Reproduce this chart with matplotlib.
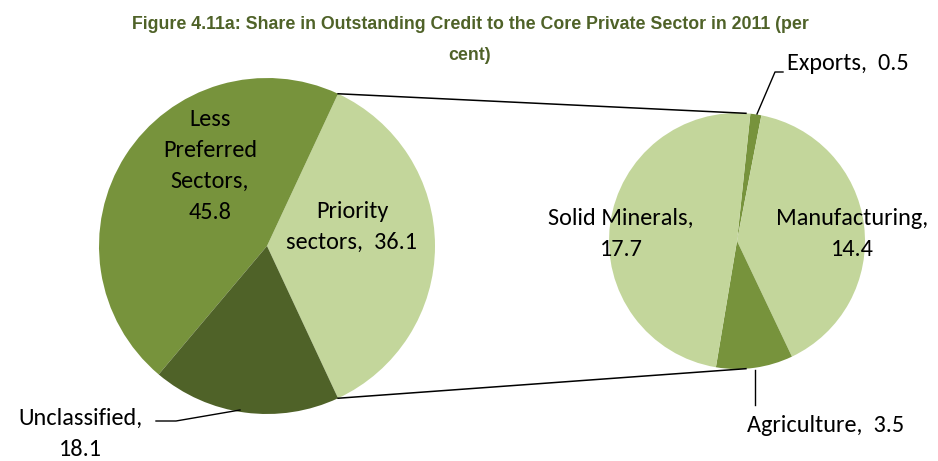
"""Pie-of-pie: share in outstanding credit to the core private sector, 2011."""
import matplotlib
matplotlib.use('Agg')
import matplotlib.pyplot as plt
import numpy as np

# main pie
main_labels = ['Priority\nsectors,  36.1', 'Less\nPreferred\nSectors,\n45.8', 'Unclassified,\n18.1']
main_values = [36.1, 45.8, 18.1]
# breakdown of the priority sectors
sub_labels = ['Exports,  0.5', 'Manufacturing,\n14.4', 'Agriculture,  3.5', 'Solid Minerals,\n17.7']
sub_values = [0.5, 14.4, 3.5, 17.7]

LIGHT = '#C3D69B'
MID = '#77933C'
DARK = '#4F6228'

W, H = 938, 461
fig = plt.figure(figsize=(W / 100, H / 100), dpi=100)
ax = fig.add_axes([0, 0, 1, 1])

def py(y):
    # pixel rows counted from the top
    return H - y

c1, r1 = (267, py(246)), 168
c2, r2 = (737, py(241)), 128

# priority slice centred on the right-hand side
start1 = 360 * main_values[0] / 100 / 2
ax.pie(main_values, colors=[LIGHT, MID, DARK], center=c1, radius=r1,
       startangle=-start1, counterclock=True, frame=True,
       wedgeprops=dict(linewidth=0))
ax.pie(sub_values, colors=[MID, LIGHT, MID, LIGHT], center=c2, radius=r2,
       startangle=84, counterclock=False, frame=True,
       wedgeprops=dict(linewidth=0))

# connector lines between the two pies
for sgn in (1, -1):
    a = np.deg2rad(sgn * start1)
    p1 = (c1[0] + r1 * np.cos(a), c1[1] + r1 * np.sin(a))
    b = np.deg2rad(sgn * 86)
    p2 = (c2[0] + r2 * np.cos(b), c2[1] + r2 * np.sin(b))
    ax.plot([p1[0], p2[0]], [p1[1], p2[1]], color='black', lw=1.1)

font = dict(family=['Carlito', 'Lato', 'DejaVu Sans'], fontsize=17.5, color='black')
ls = 1.6

ax.text(210, py(166), main_labels[1], ha='center', va='center', linespacing=ls, **font)
ax.text(352, py(227), main_labels[0], ha='center', va='center', linespacing=ls, **font)
ax.text(80, py(434), main_labels[2], ha='center', va='center', linespacing=ls, **font)
ax.plot([156, 176, 240], [py(421), py(421), py(410)], color='black', lw=1)

ax.text(621, py(234), sub_labels[3], ha='center', va='center', linespacing=ls, **font)
ax.text(852, py(234), sub_labels[1], ha='center', va='center', linespacing=ls, **font)
ax.text(787, py(64), sub_labels[0], ha='left', va='center', **font)
ax.plot([757, 775, 783], [py(114), py(72), py(72)], color='black', lw=1)
ax.text(826, py(425), sub_labels[2], ha='center', va='center', **font)
ax.plot([755, 755], [py(370), py(405)], color='black', lw=1)

fig.text(470 / W, 1 - 40 / H,
         'Figure 4.11a: Share in Outstanding Credit to the Core Private Sector in 2011 (per\ncent)',
         ha='center', va='center', fontsize=12.8, fontweight='bold', color=DARK,
         family=['Liberation Sans Narrow', 'Liberation Sans', 'DejaVu Sans'], linespacing=2.1)

ax.set_xlim(0, W)
ax.set_ylim(0, H)
ax.set_aspect('equal')
ax.axis('off')

fig.savefig('out.png', dpi=100)
plt.close(fig)
